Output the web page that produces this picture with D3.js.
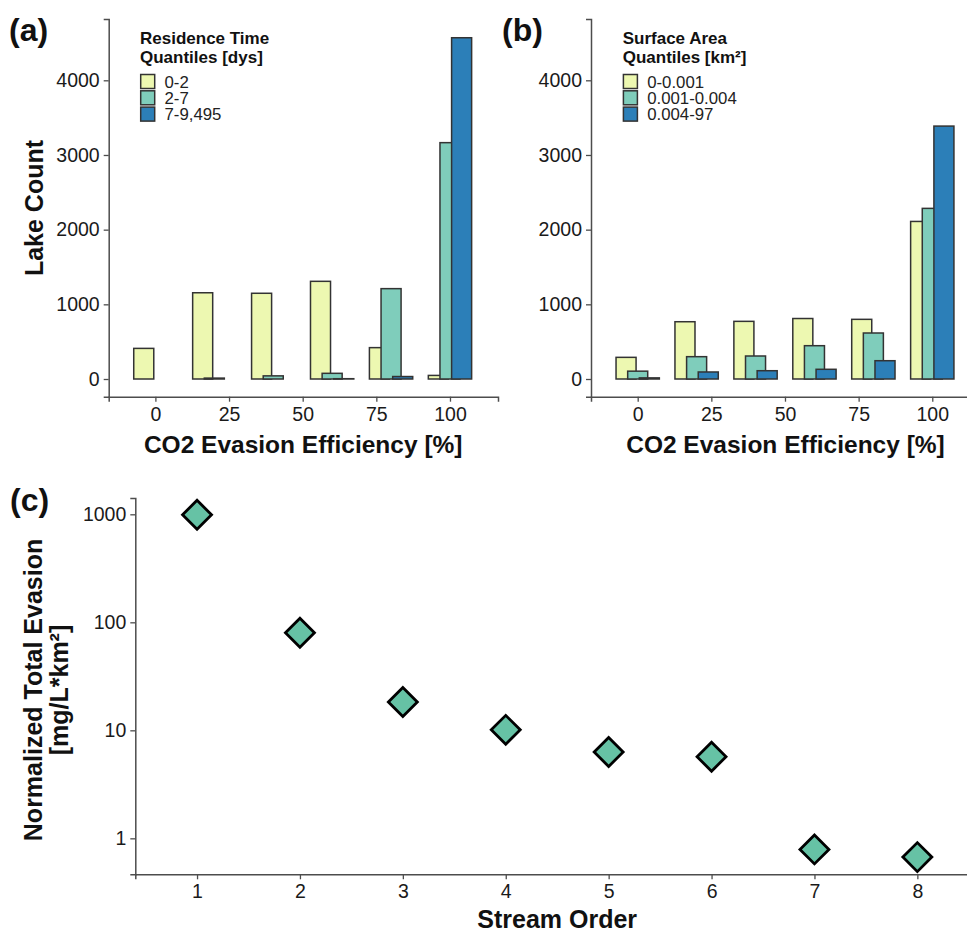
<!DOCTYPE html>
<html>
<head>
<meta charset="utf-8">
<script src="https://cdn.jsdelivr.net/npm/d3@7/dist/d3.min.js"></script>
<style>
  html, body { margin: 0; padding: 0; background: #fff; }
  svg { display: block; }
  text { font-family: "Liberation Sans", Arial, Helvetica, sans-serif; }
</style>
</head>
<body>
<svg id="chart" width="967" height="934"></svg>
<script>
// ---------------- DATA ----------------
const bins = [0, 20, 40, 60, 80, 100];
const histXTicks = [0, 25, 50, 75, 100];
const histYTicks = [0, 1000, 2000, 3000, 4000];

const resTimeLabels = ["0-2", "2-7", "7-9,495"];
const resTimeLow  = [410, 1155, 1148, 1308, 420, 48];
const resTimeMid  = [0, 12, 42, 76, 1210, 3165];
const resTimeHigh = [0, 0, 0, 4, 33, 4570];

const areaLabels = ["0-0.001", "0.001-0.004", "0.004-97"];
const areaLow  = [290, 767, 772, 810, 799, 2110];
const areaMid  = [105, 299, 308, 446, 616, 2285];
const areaHigh = [15, 94, 111, 130, 245, 3387];

const streamOrder = [1, 2, 3, 4, 5, 6, 7, 8];
const normEvasion = [990, 80, 18.3, 10.1, 6.3, 5.7, 0.79, 0.67];
const logYTicks = [1, 10, 100, 1000];

const fills = ["#edf8b1", "#7fcdbb", "#2c7fb8"];
const pointFill = "#66c2a5";

// ---------------- SETUP ----------------
const svg = d3.select("#chart");
const axisColor = "#4d4d4d";
const tickText = "#1a1a1a";
const FONT = '"Liberation Sans", Arial, sans-serif';
const tickFont = "19.5px";

function styleAxis(g) {
  g.attr("font-family", FONT).attr("font-size", 19.5);
  g.select(".domain").attr("stroke", axisColor).attr("stroke-width", 1.5);
  g.selectAll(".tick line").attr("stroke", axisColor).attr("stroke-width", 1.3);
  g.selectAll(".tick text").attr("fill", tickText)
    .style("font-family", FONT).style("font-size", tickFont);
}

function histPanel(opt) {
  const x = d3.scaleLinear().domain([-15.85, 116.3]).range([opt.left, opt.left + 389.3]);
  const y = d3.scaleLinear().domain([-237, 4821]).range([396.7, 19]);
  const g = svg.append("g");

  const barW = 6.8, off = 3.95;
  opt.series.forEach((vals, si) => {
    g.append("g").selectAll("rect").data(bins.map((b, i) => ({b, v: vals[i]})))
      .join("rect")
      .attr("x", d => x(d.b + (si - 1) * off - barW / 2))
      .attr("width", d => x(d.b + (si - 1) * off + barW / 2) - x(d.b + (si - 1) * off - barW / 2))
      .attr("y", d => y(d.v))
      .attr("height", d => y(0) - y(d.v))
      .attr("fill", fills[si])
      .attr("stroke", "#333")
      .attr("stroke-width", 1.5);
  });

  const xa = g.append("g").attr("transform", `translate(0,396.7)`)
    .call(d3.axisBottom(x).tickValues(histXTicks).tickFormat(d3.format("d"))
      .tickSizeOuter(0).tickSize(5).tickPadding(5));
  styleAxis(xa);

  const ya = g.append("g").attr("transform", `translate(${opt.left},0)`)
    .call(d3.axisLeft(y).tickValues(histYTicks).tickFormat(d3.format("d"))
      .tickSizeOuter(0).tickSize(5).tickPadding(4));
  styleAxis(ya);

  // x axis title
  g.append("text").attr("x", opt.left + 194.5).attr("y", 453)
    .attr("text-anchor", "middle").attr("font-weight", "bold").attr("font-size", 24.5)
    .attr("fill", "#111").text("CO2 Evasion Efficiency [%]");

  // legend
  const lg = g.append("g");
  lg.append("text").attr("x", opt.legX).attr("y", 44)
    .attr("font-weight", "bold").attr("font-size", 17).attr("fill", "#111").text(opt.title1);
  lg.append("text").attr("x", opt.legX).attr("y", 62.7)
    .attr("font-weight", "bold").attr("font-size", 17).attr("fill", "#111").text(opt.title2);
  opt.labels.forEach((lab, i) => {
    lg.append("rect").attr("x", opt.legX + 0.7).attr("y", 74.5 + i * 16.3)
      .attr("width", 14).attr("height", 14)
      .attr("fill", fills[i]).attr("stroke", "#333").attr("stroke-width", 1.5);
    lg.append("text").attr("x", opt.legX + 24.5).attr("y", 87.8 + i * 16.3)
      .attr("font-size", 16.8).attr("fill", "#222").text(lab);
  });

  // panel label
  g.append("text").attr("x", opt.tagX).attr("y", 41)
    .attr("font-weight", "bold").attr("font-size", 32).attr("fill", "#111").text(opt.tag);
  return {x, y, g};
}

const pa = histPanel({
  left: 108.7, series: [resTimeLow, resTimeMid, resTimeHigh], labels: resTimeLabels,
  title1: "Residence Time", title2: "Quantiles [dys]", legX: 140, tag: "(a)", tagX: 9
});
pa.g.append("text")
  .attr("transform", "translate(42.7,208) rotate(-90)")
  .attr("text-anchor", "middle").attr("font-weight", "bold").attr("font-size", 25)
  .attr("fill", "#111").text("Lake Count");

histPanel({
  left: 591, series: [areaLow, areaMid, areaHigh], labels: areaLabels,
  title1: "Surface Area", title2: "Quantiles [km²]", legX: 622.7, tag: "(b)", tagX: 502
});

// ---------------- PANEL C ----------------
const xc = d3.scaleLinear().domain([0.4, 8.6]).range([135.3, 979.1]);
const yc = d3.scaleLog().domain([Math.pow(10, -0.333), Math.pow(10, 3.151)]).range([874.3, 498]);
const gc = svg.append("g");

const xca = gc.append("g").attr("transform", "translate(0,874.3)")
  .call(d3.axisBottom(xc).tickValues(streamOrder).tickFormat(d3.format("d"))
    .tickSizeOuter(0).tickSize(5).tickPadding(5));
styleAxis(xca);

const yca = gc.append("g").attr("transform", "translate(135.3,0)")
  .call(d3.axisLeft(yc).tickValues(logYTicks).tickFormat(d3.format("d"))
    .tickSizeOuter(0).tickSize(5).tickPadding(4));
styleAxis(yca);

const diamond = d3.symbol().type(d3.symbolSquare).size(420);
gc.append("g").selectAll("path")
  .data(streamOrder.map((s, i) => ({s, v: normEvasion[i]})))
  .join("path")
  .attr("d", diamond)
  .attr("transform", d => `translate(${xc(d.s)},${yc(d.v)}) rotate(45)`)
  .attr("fill", pointFill)
  .attr("stroke", "#000")
  .attr("stroke-width", 2.8)
  .attr("stroke-linejoin", "miter");

gc.append("text").attr("x", (135.3 + 979.1) / 2).attr("y", 928)
  .attr("text-anchor", "middle").attr("font-weight", "bold").attr("font-size", 25)
  .attr("fill", "#111").text("Stream Order");

const ytitle = gc.append("text")
  .attr("transform", "translate(0,690) rotate(-90)")
  .attr("text-anchor", "middle").attr("font-weight", "bold").attr("font-size", 25)
  .attr("fill", "#111");
ytitle.append("tspan").attr("x", 0).attr("y", 41.7).text("Normalized Total Evasion");
ytitle.append("tspan").attr("x", 0).attr("y", 68).text("[mg/L*km²]");

gc.append("text").attr("x", 10).attr("y", 511)
  .attr("font-weight", "bold").attr("font-size", 32).attr("fill", "#111").text("(c)");
</script>
</body>
</html>
